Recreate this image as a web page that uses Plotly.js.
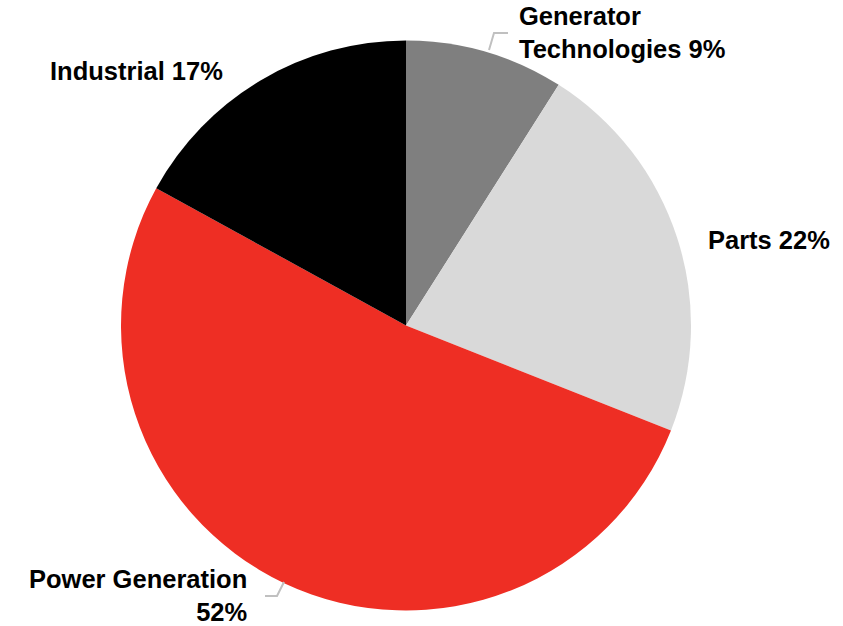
<!DOCTYPE html>
<html>
<head>
<meta charset="utf-8">
<script src="https://cdn.plot.ly/plotly-3.0.1.min.js"></script>
<style>html,body{margin:0;padding:0;background:#fff;}#chart{width:843px;height:626px;}</style>
</head>
<body>
<div id="chart"></div>
<script>
const categories = ["Generator Technologies", "Parts", "Power Generation", "Industrial"];
const shares = [9, 22, 52, 17];
const sliceColors = ["#7f7f7f", "#d9d9d9", "#ee2e24", "#000000"];
const labelTexts = ["Generator<br>Technologies 9%", "Parts 22%", "Power Generation<br>52%", "Industrial 17%"];

const W = 843, H = 626;
const px = x => x / W;
const py = y => 1 - y / H;

const labelFont = {family: "Liberation Sans, Arial, sans-serif", size: 25.5, color: "#000000", weight: "bold"};

const labelPos = [
  {x: 517, y: 0, xanchor: "left", yanchor: "top", align: "left"},
  {x: 706, y: 240, xanchor: "left", yanchor: "middle", align: "left"},
  {x: 249, y: 628, xanchor: "right", yanchor: "bottom", align: "right"},
  {x: 48, y: 71, xanchor: "left", yanchor: "middle", align: "left"}
];

const annotations = labelTexts.map((t, i) => ({
  text: t, showarrow: false, xref: "paper", yref: "paper",
  x: px(labelPos[i].x), y: py(labelPos[i].y),
  xanchor: labelPos[i].xanchor, yanchor: labelPos[i].yanchor, align: labelPos[i].align,
  font: labelFont
}));

const leader = pts => ({
  type: "path", xref: "paper", yref: "paper",
  path: pts.map((p, i) => (i ? "L" : "M") + px(p[0]) + "," + py(p[1])).join(" "),
  line: {color: "#c0c0c0", width: 2}
});

const data = [{
  type: "pie",
  labels: categories,
  values: shares,
  sort: false,
  direction: "clockwise",
  rotation: 0,
  textinfo: "none",
  hoverinfo: "label+percent",
  marker: {colors: sliceColors, line: {width: 0}},
  domain: {x: [px(406 - 285), px(406 + 285)], y: [py(611), py(40)]},
  showlegend: false
}];

const layout = {
  width: W, height: H,
  margin: {l: 0, r: 0, t: 0, b: 0},
  paper_bgcolor: "#ffffff",
  showlegend: false,
  annotations: annotations,
  shapes: [
    leader([[489, 50], [494, 33], [508, 33]]),
    leader([[265, 596], [277, 596], [284, 582]])
  ]
};

Plotly.newPlot("chart", data, layout, {displayModeBar: false, staticPlot: true});
</script>
</body>
</html>
